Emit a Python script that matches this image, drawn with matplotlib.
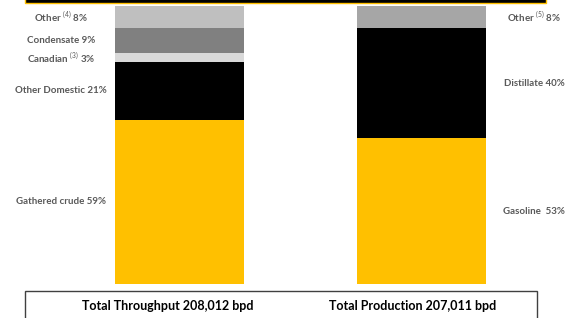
import matplotlib.pyplot as plt
from matplotlib.patches import Rectangle

plt.rcParams['font.family'] = ['Lato', 'DejaVu Sans']
plt.rcParams['mathtext.fontset'] = 'custom'
plt.rcParams['mathtext.rm'] = 'Lato'
plt.rcParams['mathtext.bf'] = 'Lato:bold'

# throughput (left bar), bottom to top
in_labels = ["Gathered crude 59%", "Other Domestic 21%", "Canadian $^{(3)}$ 3%",
             "Condensate 9%", "Other $^{(4)}$ 8%"]
in_values = [59, 21, 3, 9, 8]
in_colors = ["#FFC000", "#000000", "#D9D9D9", "#808080", "#BFBFBF"]

# production (right bar), bottom to top
out_labels = ["Gasoline  53%", "Distillate 40%", "Other $^{(5)}$ 8%"]
out_values = [53, 40, 8]
out_colors = ["#FFC000", "#000000", "#A6A6A6"]

totals = ["Total Throughput 208,012 bpd", "Total Production 207,011 bpd"]

W, H = 582, 318
fig = plt.figure(figsize=(W / 100, H / 100), dpi=100)
ax = fig.add_axes([0, 34 / H, 1, 278 / H])
ax.set_ylim(0, 100)
ax.set_xlim(-0.740, 1.660)
ax.axis("off")

label_color = "#595959"


def stack(x, values, labels, colors, lx):
    tot = sum(values)
    bottom = 0
    for v, lab, c in zip(values, labels, colors):
        h = v / tot * 100
        ax.bar(x, h, bottom=bottom, width=0.532, color=c, linewidth=0)
        ax.text(lx, bottom + h / 2, lab, ha="center", va="center",
                fontsize=7, color=label_color, fontweight="bold")
        bottom += h


stack(0, in_values, in_labels, in_colors, -0.489)
stack(1, out_values, out_labels, out_colors, 1.462)

# header strip and footer box
fig.patches.append(Rectangle((25 / W, (H - 3) / H), 521 / W, 10 / H,
                             transform=fig.transFigure, facecolor="black",
                             edgecolor="#FFC000", linewidth=1))
fig.patches.append(Rectangle((25 / W, -10 / H), 512 / W, 37 / H,
                             transform=fig.transFigure, facecolor="white",
                             edgecolor="#404040", linewidth=1))

fig.text(168 / W, 12 / H, totals[0], ha="center", va="center",
         fontsize=9, fontweight="bold", color="black")
fig.text(413 / W, 12 / H, totals[1], ha="center", va="center",
         fontsize=9, fontweight="bold", color="black")

fig.savefig("out.png", dpi=100)
